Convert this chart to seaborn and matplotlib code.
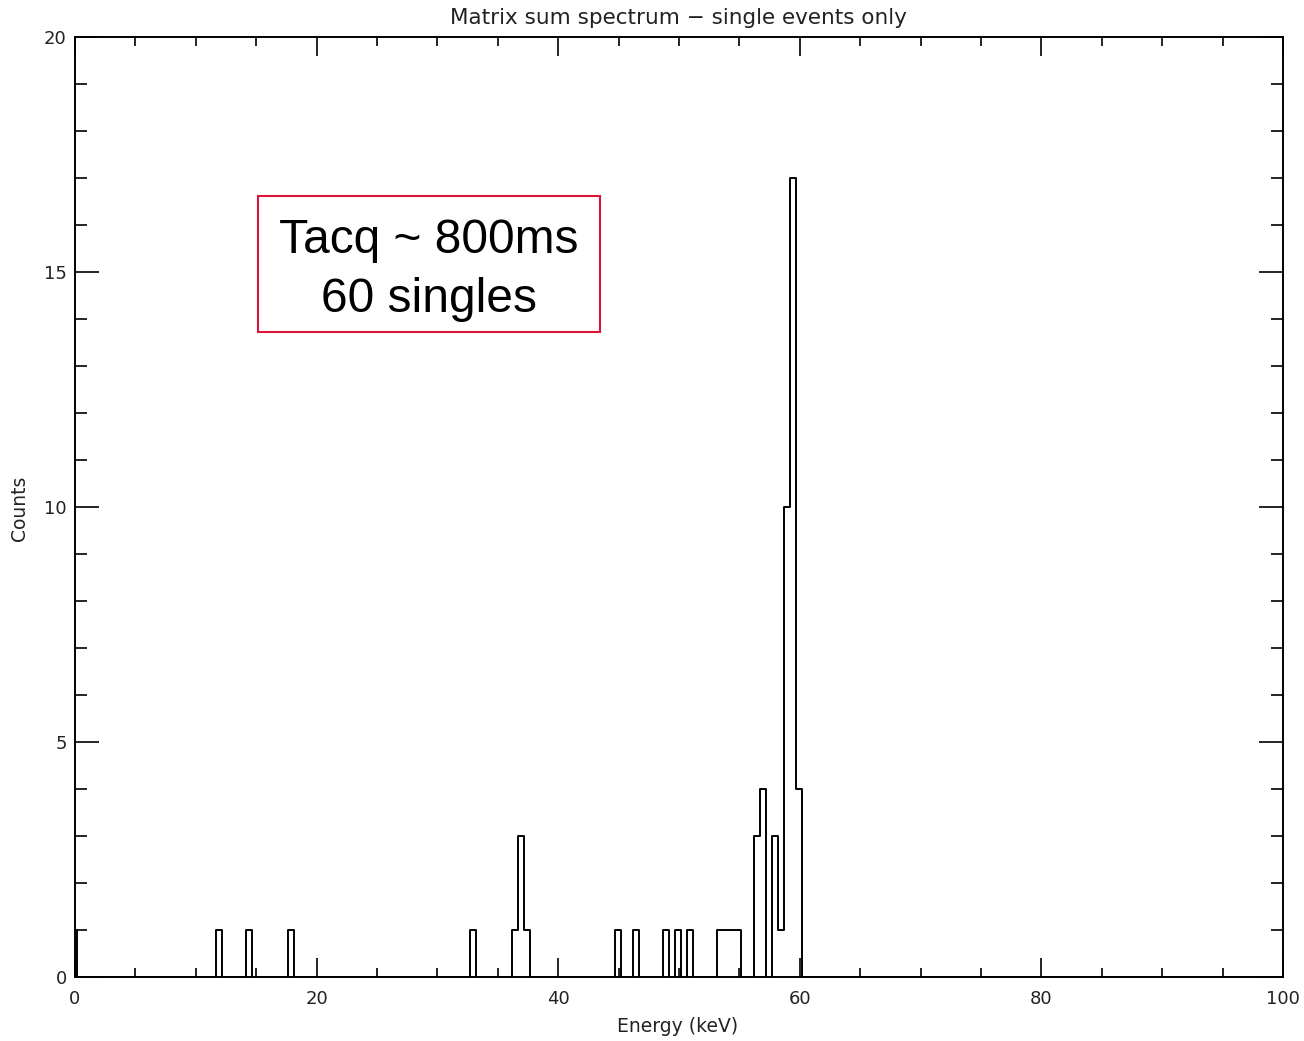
import numpy as np
import pandas as pd
import matplotlib
matplotlib.use("Agg")
import matplotlib.pyplot as plt
from matplotlib.ticker import MultipleLocator
from matplotlib.patches import Rectangle
import seaborn as sns

# Nonzero bins: left edge (keV) and counts
bin_left = [-0.33, 11.67, 14.17, 17.67, 32.67, 36.17, 36.67, 37.17,
            44.67, 46.17, 48.67, 49.67, 50.67, 53.17, 53.67, 54.17, 54.67,
            56.17, 56.67, 57.67, 58.17, 58.67, 59.17, 59.67]
bin_counts = [1, 1, 1, 1, 1, 1, 3, 1,
              1, 1, 1, 1, 1, 1, 1, 1, 1,
              3, 4, 3, 1, 10, 17, 4]
bin_width = 0.5

x_ticks = [0, 20, 40, 60, 80, 100]
y_ticks = [0, 5, 10, 15, 20]

title = "Matrix sum spectrum \u2212 single events only"
xlabel = "Energy (keV)"
ylabel = "Counts"
note_lines = ["Tacq ~ 800ms", "60 singles"]

sns.set_theme(style="white")
plt.rcParams["font.family"] = ["DejaVu Sans"]

df = pd.DataFrame({"energy": np.array(bin_left) + bin_width / 2,
                   "counts": bin_counts})

W, H = 1304, 1041
fig = plt.figure(figsize=(W / 100, H / 100), dpi=100)
ax = fig.add_axes([75 / W, 1 - 977 / H, (1283 - 75) / W, (977 - 37) / H])

sns.histplot(data=df, x="energy", weights="counts", binwidth=bin_width,
             binrange=(-0.33, 100.17),
             element="step", fill=False, color="black", linewidth=1.4, ax=ax)

ax.set_xlim(0, 100)
ax.set_ylim(0, 20)
ax.set_xticks(x_ticks)
ax.set_yticks(y_ticks)
ax.xaxis.set_minor_locator(MultipleLocator(5))
ax.yaxis.set_minor_locator(MultipleLocator(1))
ax.tick_params(which="both", direction="in", top=True, right=True,
               bottom=True, left=True,
               color="black", width=1.2, labelsize=13, labelcolor="#222222")
ax.tick_params(axis="x", which="major", length=19 * 0.72, pad=9)
ax.tick_params(axis="x", which="minor", length=9 * 0.72)
ax.tick_params(axis="y", which="major", length=24 * 0.72, pad=6)
ax.tick_params(axis="y", which="minor", length=12 * 0.72)
for s in ax.spines.values():
    s.set_color("black")
    s.set_linewidth(1.4)
    s.set_visible(True)

ax.set_xlabel("")
ax.set_ylabel("")
fig.text(678 / W, 1 - 1027 / H, xlabel, ha="center", va="center",
         fontsize=13.5, color="#222222")
fig.text(19 / W, 1 - 508 / H, ylabel, ha="center", va="center",
         rotation=90, fontsize=13.5, color="#222222")
fig.text(678 / W, 1 - 18 / H, title, ha="center", va="center",
         fontsize=15.5, color="#222222")

# Annotation box
rect = Rectangle((258 / W, 1 - 332 / H), (600 - 258) / W, (332 - 196) / H,
                 transform=fig.transFigure, fill=False,
                 edgecolor="#DC143C", linewidth=1.5)
fig.patches.append(rect)
fig.text(429 / W, 1 - 253 / H, note_lines[0], ha="center", va="baseline",
         fontsize=34.5, family=["Liberation Sans", "DejaVu Sans"], color="black")
fig.text(429 / W, 1 - 312 / H, note_lines[1], ha="center", va="baseline",
         fontsize=34.5, family=["Liberation Sans", "DejaVu Sans"], color="black")

fig.savefig("out.png", dpi=100)
